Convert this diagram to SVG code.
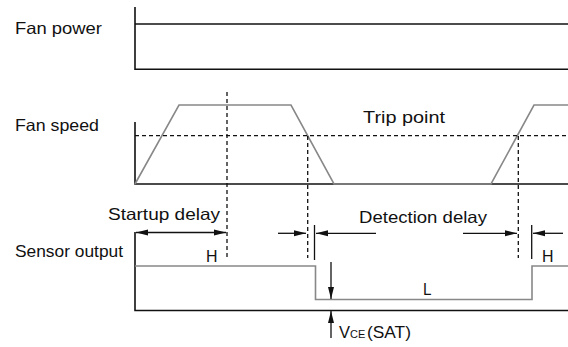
<svg xmlns="http://www.w3.org/2000/svg" width="568" height="347" viewBox="0 0 568 347">
<style>
text { font-family: "Liberation Sans", Arial, sans-serif; font-size: 16.5px; fill: #111; }
.ax { stroke: #111; stroke-width: 1.6; fill: none; }
.wf { stroke: #888; stroke-width: 1.6; fill: none; stroke-linejoin: miter; }
.dash { stroke: #111; stroke-width: 1.3; stroke-dasharray: 4 3; fill: none; }
.arr { stroke: #111; stroke-width: 1.3; fill: none; }
</style>
<defs>
<marker id="ah" markerWidth="13" markerHeight="8" refX="12" refY="4" orient="auto-start-reverse" markerUnits="userSpaceOnUse">
<path d="M0,1 L12,4 L0,7 z" fill="#111"/>
</marker>
</defs>
<rect width="568" height="347" fill="#fff"/>

<g id="fan-power">
<text x="15" y="34" textLength="87" lengthAdjust="spacingAndGlyphs">Fan power</text>
<path class="ax" d="M135,7 V69.3 H568"/>
<path class="ax" d="M135,24 H568"/>
</g>

<g id="fan-speed">
<text x="15" y="131" textLength="84" lengthAdjust="spacingAndGlyphs">Fan speed</text>
<path class="ax" d="M135,122 V184 H568"/>
<path class="wf" d="M135,184 L179,105 H291 L334,184 H491 L534,105 H568"/>
<text x="363" y="123" textLength="82" lengthAdjust="spacingAndGlyphs">Trip point</text>
</g>

<g id="sensor-output">
<text x="15" y="257" textLength="108" lengthAdjust="spacingAndGlyphs">Sensor output</text>
<path class="ax" d="M135,232 V310.5 H568"/>
<path class="wf" d="M135,266 H315.5 V299.5 H532 V266 H568"/>
<text x="206" y="262" textLength="11.5" lengthAdjust="spacingAndGlyphs">H</text>
<text x="423" y="295" textLength="8.5" lengthAdjust="spacingAndGlyphs">L</text>
<text x="542" y="262" textLength="11.5" lengthAdjust="spacingAndGlyphs">H</text>
</g>

<g id="connectors">
<path class="dash" d="M135,135.7 H568"/>
<path class="dash" d="M227,92 V258"/>
<path class="dash" d="M307.7,136 V258"/>
<path class="dash" d="M518.3,136 V258"/>
<line class="arr" x1="136" y1="232.5" x2="226" y2="232.5" marker-start="url(#ah)" marker-end="url(#ah)"/>
<line class="arr" x1="278" y1="233.3" x2="306" y2="233.3" marker-end="url(#ah)"/>
<line class="arr" x1="376" y1="233.3" x2="316" y2="233.3" marker-end="url(#ah)"/>
<line class="arr" x1="314.5" y1="225" x2="314.5" y2="260"/>
<line class="arr" x1="463" y1="233.3" x2="517" y2="233.3" marker-end="url(#ah)"/>
<line class="arr" x1="563" y1="233.3" x2="533" y2="233.3" marker-end="url(#ah)"/>
<line class="arr" x1="531.7" y1="225" x2="531.7" y2="259"/>
<line class="arr" x1="331" y1="262" x2="331" y2="299" marker-end="url(#ah)"/>
<line class="arr" x1="331" y1="338" x2="331" y2="311" marker-end="url(#ah)"/>
</g>

<g id="labels">
<text x="108" y="220" textLength="112" lengthAdjust="spacingAndGlyphs">Startup delay</text>
<text x="359" y="223.3" textLength="128" lengthAdjust="spacingAndGlyphs">Detection delay</text>
<text x="339" y="337.5">V<tspan font-size="11">CE</tspan></text>
<text x="367" y="337.5" textLength="44" lengthAdjust="spacingAndGlyphs">(SAT)</text>
</g>
</svg>
